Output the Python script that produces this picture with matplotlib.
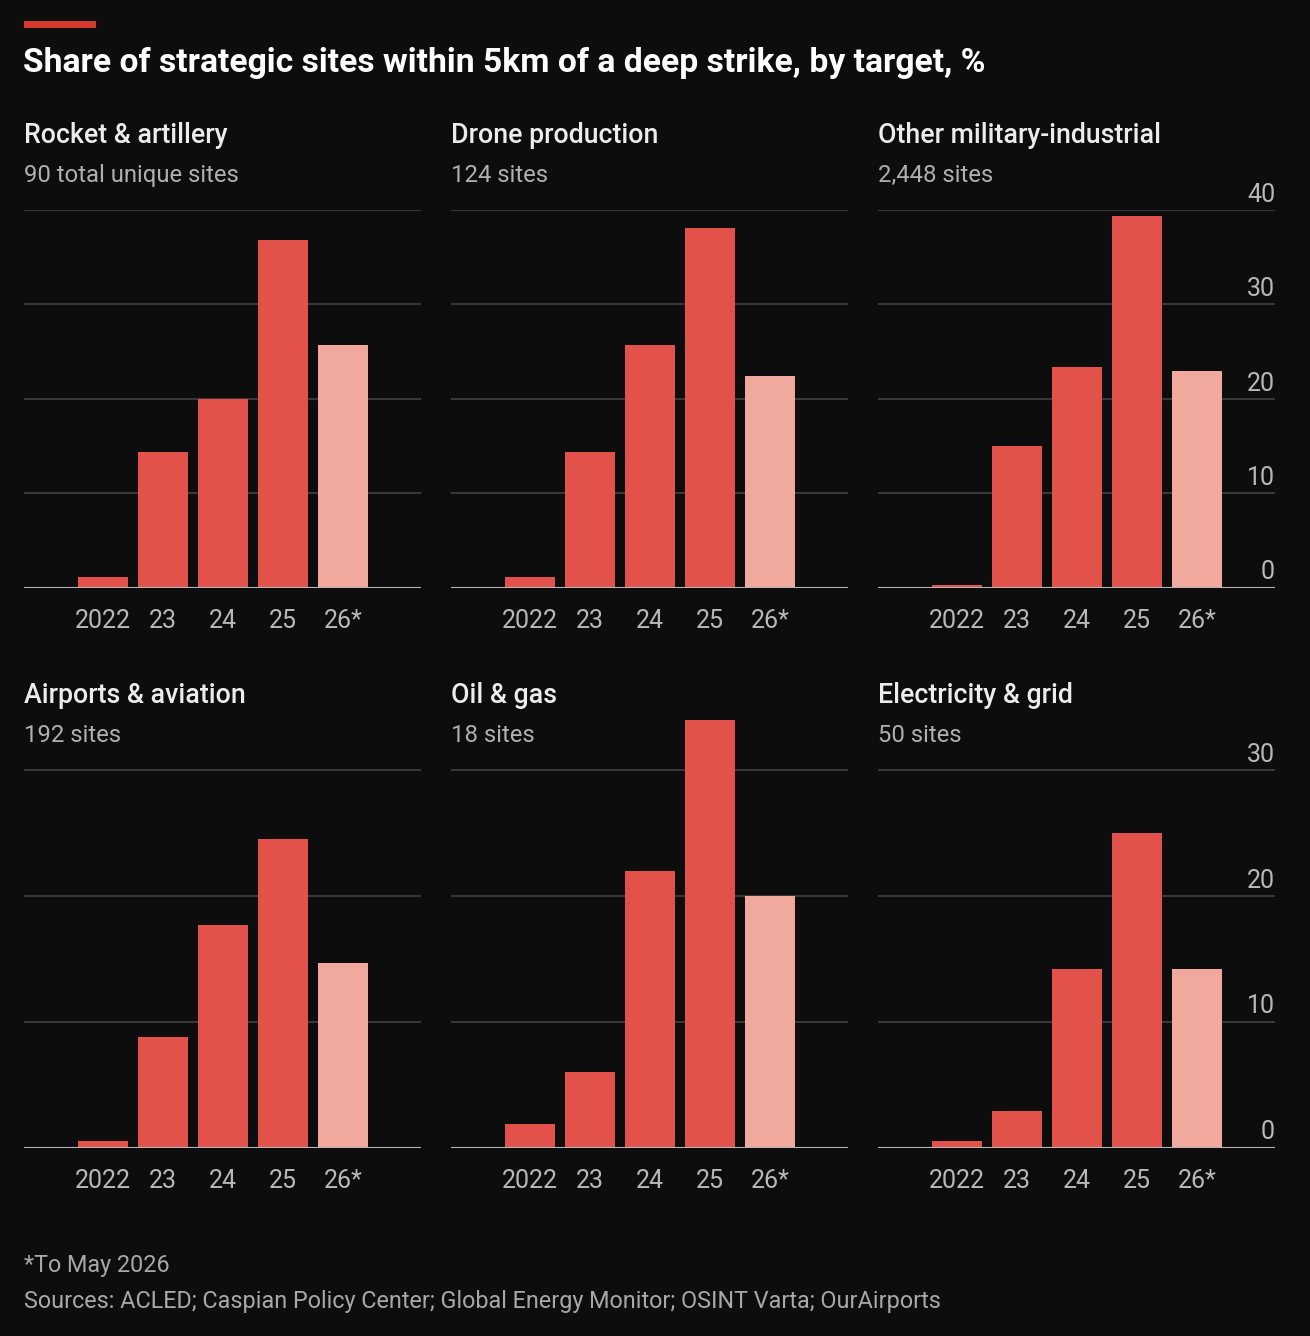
import matplotlib
matplotlib.use("Agg")
import matplotlib.pyplot as plt
from matplotlib.patches import Rectangle

plt.rcParams['font.family'] = ['Roboto', 'DejaVu Sans']

# === DATA ===
years = ["2022", "23", "24", "25", "26*"]
titles = ["Rocket & artillery", "Drone production", "Other military-industrial",
          "Airports & aviation", "Oil & gas", "Electricity & grid"]
subtitles = ["90 total unique sites", "124 sites", "2,448 sites",
             "192 sites", "18 sites", "50 sites"]
rocket = [1.1, 14.4, 20.0, 36.8, 25.7]
drone = [1.1, 14.4, 25.7, 38.1, 22.4]
other = [0.3, 15.0, 23.4, 39.4, 22.9]
airports = [0.5, 8.8, 17.7, 24.5, 14.7]
oil = [1.9, 6.0, 22.0, 34.0, 20.0]
electricity = [0.5, 2.9, 14.2, 25.0, 14.2]
series = [rocket, drone, other, airports, oil, electricity]
top_ticks = [0, 10, 20, 30, 40]
bottom_ticks = [0, 10, 20, 30]

# === STYLE ===
BG = '#0d0d0d'
RED = '#e3524a'
PALE = '#f0a99c'
GRID = '#383838'
BASE = '#b5b5b5'
TICK = '#b8b8b8'
W, H = 1310, 1336

fig = plt.figure(figsize=(W / 100, H / 100), dpi=100, facecolor=BG)


def fx(px):
    return px / W


def fy(px):
    return 1 - px / H


# red accent + title
fig.patches.append(Rectangle((fx(24), fy(28)), fx(72), 7 / H, transform=fig.transFigure,
                             color='#d63a2c', lw=0))
fig.text(fx(23), fy(72), "Share of strategic sites within 5km of a deep strike, by target, %",
         color='white', fontsize=24.2, fontweight='bold', va='baseline')

lefts = [24, 451, 878]
panel_w = 397
rows = [
    dict(zero=587.7, top=210, ylim=40, ticks=top_ticks, title_y=143, sub_y=182),
    dict(zero=1147.7, top=1147.7 - 35 * 12.59, ylim=35, ticks=bottom_ticks, title_y=703, sub_y=742),
]

for i, vals in enumerate(series):
    r, c = divmod(i, 3)
    row = rows[r]
    left = lefts[c]
    ax = fig.add_axes([fx(left), fy(row['zero']), fx(panel_w), (row['zero'] - row['top']) / H])
    ax.set_facecolor(BG)
    x = list(range(len(years)))
    colors = [RED] * (len(years) - 1) + [PALE]
    ax.bar(x, vals, width=0.833, color=colors, zorder=3)
    ax.set_xlim(-1.317, 5.3)
    ax.set_ylim(0, row['ylim'])
    for t in row['ticks'][1:]:
        ax.axhline(t, color=GRID, lw=1.5, zorder=1)
    ax.axhline(0, color=BASE, lw=1.5, zorder=4)
    for s in ax.spines.values():
        s.set_visible(False)
    ax.set_yticks([])
    ax.set_xticks(x)
    ax.set_xticklabels(years)
    ax.tick_params(axis='x', length=0, pad=15, labelsize=18, labelcolor=TICK)
    if c == 2:
        for t in row['ticks']:
            ax.annotate(str(t), xy=(1.0, t), xycoords=ax.get_yaxis_transform(),
                        xytext=(0, 6), textcoords='offset points',
                        ha='right', va='baseline', fontsize=18, color=TICK)
    fig.text(fx(left), fy(row['title_y']), titles[i], color='#ececec', fontsize=19.3,
             fontweight='medium', va='baseline')
    fig.text(fx(left), fy(row['sub_y']), subtitles[i], color='#b0b0b0', fontsize=17.2,
             va='baseline')

fig.text(fx(24), fy(1272), "*To May 2026", color='#a8a8a8', fontsize=16.8, va='baseline')
fig.text(fx(24), fy(1308),
         "Sources: ACLED; Caspian Policy Center; Global Energy Monitor; OSINT Varta; OurAirports",
         color='#a8a8a8', fontsize=16.8, va='baseline')

fig.savefig("out.png", dpi=100, facecolor=BG)
